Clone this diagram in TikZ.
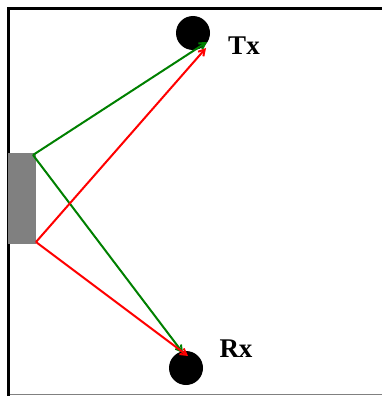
\documentclass[tikz,border=0pt]{standalone}
\usepackage{fontspec}
\setmainfont{Liberation Serif}
\usetikzlibrary{arrows.meta}

\begin{document}
\begin{tikzpicture}[x=1pt,y=-1pt,
  ray/.style={line width=2pt,-{Straight Barb[length=6pt,width=7pt]}},
  antenna/.style={circle,fill=black,minimum size=34pt,inner sep=0pt},
  lbl/.style={font=\bfseries\fontsize{27}{27}\selectfont}]
\useasboundingbox (0,0) rectangle (382,396);
% room edges
\draw[line width=3pt] (8.5,396) -- (8.5,8.5) -- (382,8.5);
\draw[gray,line width=1pt] (10,394.5) -- (382,394.5);
% wall
\fill[gray] (8,153) rectangle (36,244);
\coordinate (wtop) at (33,155);
\coordinate (wbot) at (36,242);
% antennas
\node[antenna] (tx) at (193,33) {};
\node[antenna] (rx) at (186,368) {};
\node[lbl] (txl) at (244,46) {Tx};
\node[lbl] (rxl) at (236,349) {Rx};
\coordinate (txg) at (207,42);
\coordinate (txr) at (206,48);
\coordinate (rxg) at (183,353);
\coordinate (rxr) at (188,356);
% rays
\draw[ray,green!50!black] (wtop) -- (txg);
\draw[ray,green!50!black] (wtop) -- (rxg);
\draw[ray,red] (wbot) -- (txr);
\draw[ray,red] (wbot) -- (rxr);
\end{tikzpicture}
\end{document}
